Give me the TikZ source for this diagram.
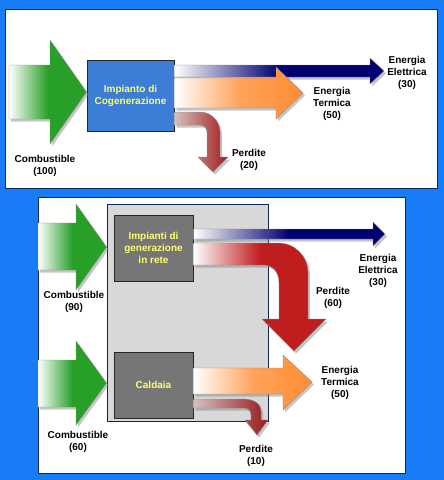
\documentclass[tikz,border=0pt]{standalone}
\usepackage{fontspec}
\setsansfont{Liberation Sans}
\usepackage{xcolor}
\usepackage{tikz}
\usetikzlibrary{shadows}

\definecolor{sky}{RGB}{24,124,246}
\definecolor{rim}{RGB}{16,36,86}
\definecolor{fuel}{RGB}{40,160,40}
\definecolor{power}{RGB}{0,0,112}
\definecolor{heat}{RGB}{255,140,50}
\definecolor{loss}{RGB}{192,30,30}
\definecolor{plantblue}{RGB}{60,125,215}
\definecolor{plantgray}{RGB}{118,118,118}
\definecolor{hallgray}{RGB}{216,216,216}
\definecolor{tag}{RGB}{255,255,110}

\tikzset{
    panel/.style={fill=white, draw=rim, line width=0.8pt},
    plant/.style={draw=black!85, line width=1pt, text=tag, align=center, inner sep=0pt,
        font=\sffamily\bfseries\fontsize{10}{12}\selectfont},
    lbl/.style={align=center, inner sep=0pt, font=\sffamily\bfseries\fontsize{10}{12}\selectfont},
    flow/.style={draw=black!45, line width=0.4pt,
        drop shadow={shadow xshift=2pt, shadow yshift=-2.5pt, opacity=0.45}},
}

\begin{document}
\begin{tikzpicture}[x=1pt, y=-1pt]
    \fill[sky] (0,0) rectangle (444,480);
    \draw[panel] (5,9) rectangle (437,188);
    \draw[panel] (38,197) rectangle (405,473);

    \node[plant, fill=plantblue, minimum width=87pt, minimum height=71pt] (cog) at (130.5,95.5) {Impianto di\\Cogenerazione};

    \shadedraw[flow, left color=white, right color=fuel, middle color=fuel]
        (9,65) -- (50,65) -- (50,40) -- (cog.west |- 0,92) -- (50,144) -- (50,119) -- (9,119) -- cycle;
    \shadedraw[flow, left color=white, right color=power, middle color=power]
        (cog.east |- 0,65) -- (370,65) -- (370,58) -- (384,71) -- (370,84) -- (370,77) -- (cog.east |- 0,77) -- cycle;
    \shadedraw[flow, left color=white, right color=heat, middle color=heat!80!white]
        (cog.east |- 0,78) -- (276,78) -- (276,67) -- (303,93) -- (276,119) -- (276,108) -- (cog.east |- 0,108) -- cycle;
    \shadedraw[flow, left color=loss!30!gray!40!white, right color=loss!85!black]
        (cog.east |- 0,112) -- (200,112) .. controls (211,112) and (220,121) .. (220,132) -- (220,157)
        -- (228,157) -- (213,172) -- (198,157) -- (207,157) -- (207,132)
        .. controls (207,128) and (204,125) .. (200,125) -- (cog.east |- 0,125) -- cycle;

    \node[lbl] (fuel1) at (45,166) {Combustible\\(100)};
    \node[lbl] (elec1) at (407,73) {Energia\\Elettrica\\(30)};
    \node[lbl] (heat1) at (332,104) {Energia\\Termica\\(50)};
    \node[lbl] (loss1) at (249,160) {Perdite\\(20)};

    \node[fill=hallgray, draw=rim, line width=1pt, minimum width=161pt, minimum height=217pt] (hall) at (187.5,312.5) {};
    \node[plant, fill=plantgray, minimum width=79pt, minimum height=66pt] (grid) at (153.5,248) {Impianti di\\generazione\\in rete};
    \node[plant, fill=plantgray, minimum width=79pt, minimum height=66pt] (boiler) at (153.5,385) {Caldaia};

    \shadedraw[flow, left color=white, right color=fuel, middle color=fuel]
        (38,223) -- (76,223) -- (76,204) -- (hall.west |- 0,247) -- (76,290) -- (76,270) -- (38,270) -- cycle;
    \shadedraw[flow, left color=white, right color=fuel, middle color=fuel]
        (38,360) -- (76,360) -- (76,341) -- (hall.west |- 0,383) -- (76,425) -- (76,407) -- (38,407) -- cycle;
    \shadedraw[flow, left color=white, right color=power, middle color=power]
        (grid.east |- 0,229) -- (373,229) -- (373,222) -- (385,234) -- (373,246) -- (373,239) -- (grid.east |- 0,239) -- cycle;
    \shadedraw[flow, left color=white, right color=loss, middle color=loss]
        (grid.east |- 0,243) -- (278,243) .. controls (295,243) and (308,256) .. (308,273) -- (308,319)
        -- (326,319) -- (294,351) -- (262,319) -- (279,319) -- (279,283)
        .. controls (279,272) and (273,265) .. (263,265) -- (grid.east |- 0,265) -- cycle;
    \shadedraw[flow, left color=white, right color=heat, middle color=heat!80!white]
        (boiler.east |- 0,368) -- (283,368) -- (283,355) -- (312,382) -- (283,410) -- (283,394) -- (boiler.east |- 0,394) -- cycle;
    \shadedraw[flow, left color=loss!30!gray!40!white, right color=loss!80!black]
        (boiler.east |- 0,399) -- (242,399) .. controls (254,399) and (261,403) .. (261,412) -- (261,420)
        -- (268,420) -- (257,435) -- (245,420) -- (251,420) -- (251,415)
        .. controls (251,410) and (248,408) .. (243,408) -- (boiler.east |- 0,408) -- cycle;

    \node[lbl] (fuel2) at (74,302) {Combustible\\(90)};
    \node[lbl] (fuel3) at (78,442) {Combustible\\(60)};
    \node[lbl] (elec2) at (378,271) {Energia\\Elettrica\\(30)};
    \node[lbl] (loss2) at (333,298) {Perdite\\(60)};
    \node[lbl] (heat2) at (340,383) {Energia\\Termica\\(50)};
    \node[lbl] (loss3) at (256,456) {Perdite\\(10)};
\end{tikzpicture}
\end{document}
